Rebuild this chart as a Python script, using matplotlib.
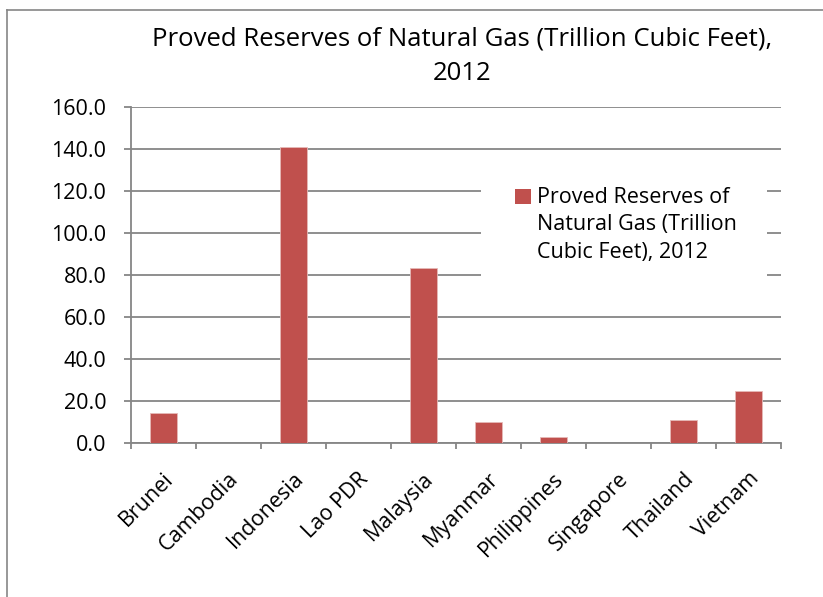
import matplotlib
matplotlib.use("Agg")
import matplotlib.pyplot as plt
from matplotlib.lines import Line2D
from matplotlib.patches import Rectangle
from matplotlib.legend_handler import HandlerPatch
import numpy as np

plt.rcParams['font.family'] = ['Open Sans', 'DejaVu Sans']

# proved reserves by country, trillion cubic feet
countries = ["Brunei", "Cambodia", "Indonesia", "Lao PDR", "Malaysia",
             "Myanmar", "Philippines", "Singapore", "Thailand", "Vietnam"]
reserves = [14.3, 0.0, 141.0, 0.0, 83.5, 10.0, 3.2, 0.0, 10.9, 25.0]
yticks = [0, 20, 40, 60, 80, 100, 120, 140, 160]

series_name = "Proved Reserves of\nNatural Gas (Trillion\nCubic Feet), 2012"
title = "Proved Reserves of Natural Gas (Trillion Cubic Feet),\n2012"

grey = "#868686"
bar_color = "#C0504D"
W, H = 823, 597
fs = 15.5


def px(x, y):
    # pixel position (from top-left) -> figure fraction
    return x / W, 1 - y / H


fig = plt.figure(figsize=(W / 100, H / 100), dpi=100)
ax = fig.add_axes([130.7 / W, 1 - 443.3 / H, 650 / W, 336.6 / H])

x = np.arange(len(countries))
ax.bar(x, reserves, width=0.41, color=bar_color, edgecolor="#E6B9B8",
       linewidth=0.6, zorder=3)

ax.set_xlim(-0.5, len(countries) - 0.5)
ax.set_ylim(0, 160)
ax.set_yticks(yticks)
ax.set_yticklabels([f"{v:.1f}" for v in yticks], fontsize=fs)
ax.yaxis.grid(True, color=grey, linewidth=1.3, zorder=0)

ax.set_xticks(x)
ax.set_xticklabels(countries, rotation=45, ha="right", va="top",
                   rotation_mode="anchor", fontsize=fs)
ax.set_xticks(np.arange(-0.5, len(countries)), minor=True)
ax.tick_params(axis="x", which="major", length=0, pad=18)
ax.tick_params(axis="x", which="minor", length=4.3, color=grey, width=1.3)
ax.tick_params(axis="y", length=5, color=grey, width=1.3, pad=12.5)

for side in ["top", "right"]:
    ax.spines[side].set_visible(False)
for side in ["left", "bottom"]:
    ax.spines[side].set_color(grey)
    ax.spines[side].set_linewidth(1.3)

fig.text(*px(462, 56), title, ha="center", va="center",
         fontsize=18.5, linespacing=1.5)

# white panel behind the legend, hiding the gridlines
x0, y0 = px(481, 290)
x1, y1 = px(767, 160)
ax.add_patch(Rectangle((x0, y0), x1 - x0, y1 - y0, transform=fig.transFigure,
                       facecolor="white", edgecolor="none", zorder=2,
                       clip_on=False))


def top_square(legend, orig_handle, xdescent, ydescent, width, height, fontsize):
    # square lined up with the first line of the label
    return Rectangle((-xdescent, -ydescent + 20.7), width, height)


handle = Rectangle((0, 0), 1, 1, facecolor=bar_color)
leg = ax.legend([handle], [series_name], loc="upper left",
                bbox_to_anchor=px(515, 187), bbox_transform=fig.transFigure,
                fontsize=fs, frameon=False, handlelength=0.72,
                handleheight=0.72, handletextpad=0.3, borderpad=0,
                borderaxespad=0,
                handler_map={Rectangle: HandlerPatch(patch_func=top_square)})
for t in leg.get_texts():
    t.set_linespacing(1.4)

# chart frame
fig.add_artist(Line2D([7.5 / W, 7.5 / W], [1 - 9.5 / H, 0], color=grey,
                      linewidth=1.2, transform=fig.transFigure))
fig.add_artist(Line2D([7.5 / W, 1], [1 - 9.5 / H, 1 - 9.5 / H], color=grey,
                      linewidth=1.2, transform=fig.transFigure))

fig.savefig("out.png", dpi=100, facecolor="white")
